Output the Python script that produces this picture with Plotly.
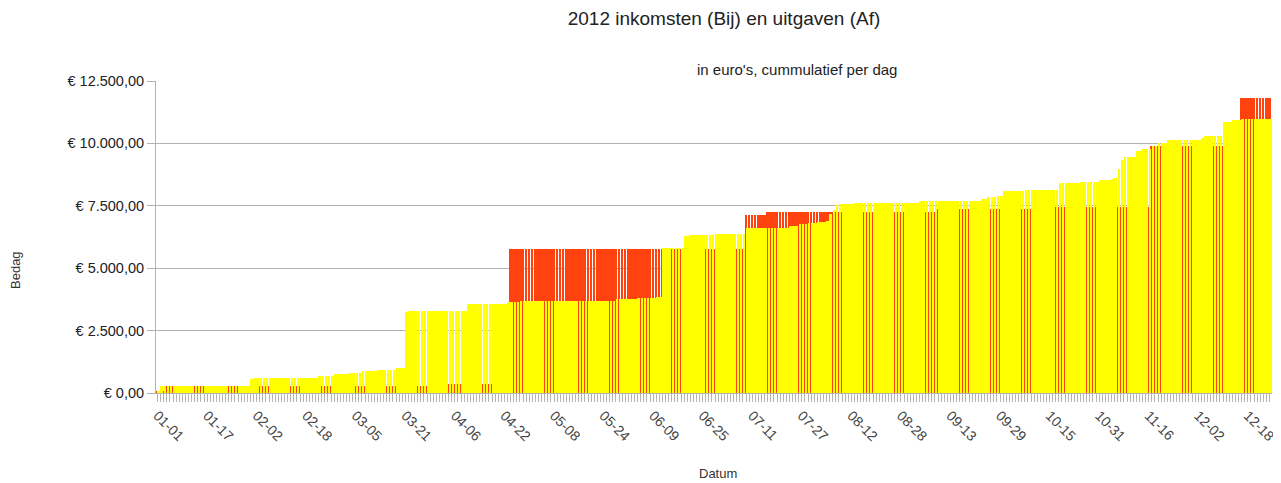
import pandas as pd
import plotly.graph_objects as go

# Days shown on the category axis (2012 is a leap year)
days = pd.date_range("2012-01-01", "2012-12-25", freq="D")
categories = [d.strftime("%m-%d") for d in days]

# Income (Bij): booking date and amount in euro
bij_dates = ["01-01", "01-02", "01-31", "02-01", "02-22", "02-27", "03-03", "03-07",
             "03-12", "03-18", "03-21", "03-22", "04-10", "04-23", "04-27", "05-28",
             "06-04", "06-10", "06-12", "06-19", "06-21", "06-29", "07-09", "07-23",
             "07-26", "07-29", "08-01", "08-04", "08-05", "08-06", "08-07", "08-08",
             "08-13", "09-03", "09-23", "09-25", "09-28", "09-30", "10-07", "10-18",
             "10-25", "10-31", "11-04", "11-05", "11-06", "11-07", "11-08", "11-12",
             "11-14", "11-17", "11-19", "11-22", "12-03", "12-04", "12-10", "12-13",
             "12-16"]
bij_amounts = [90, 200, 280, 40, 80, 80, 40, 60,
               70, 50, 2250, 60, 270, 70, 60, 70,
               30, 40, 1980, 490, 40, 30, 220, 110,
               70, 20, 60, 20, 300, 150, 220, 30,
               50, 70, 80, 60, 60, 190, 60, 250,
               70, 80, 30, 40, 360, 370, 100, 240,
               70, 120, 140, 120, 80, 80, 550, 70,
               70]

# Expenses (Af): booking date and amount in euro
af_dates = ["01-01", "01-04", "04-01", "04-24", "07-09", "07-16", "09-09", "10-15",
            "11-17", "12-16"]
af_amounts = [90, 200, 80, 5410, 1360, 100, 140, 60, 2460, 1930]

title_text = "2012 inkomsten (Bij) en uitgaven (Af)"
subtitle_text = "in euro's, cummulatief per dag"


def cumulative(dates, amounts):
    daily = pd.Series(0.0, index=categories)
    for d, a in zip(dates, amounts):
        daily[d] += a
    return daily.cumsum().tolist()


bij_cum = cumulative(bij_dates, bij_amounts)
af_cum = cumulative(af_dates, af_amounts)

ticktext = [c if i % 16 == 0 else "" for i, c in enumerate(categories)]

fig = go.Figure()
fig.add_trace(go.Bar(x=categories, y=af_cum, name="Af", width=0.87, offset=-0.5,
                     marker=dict(color="#FF420E", line=dict(width=0))))
fig.add_trace(go.Bar(x=categories, y=bij_cum, name="Bij", width=0.87, offset=-0.065,
                     marker=dict(color="#FFFF00", line=dict(width=0))))

font_family = "Liberation Sans, Arial, sans-serif"

# the page body has an 8px margin, so the figure is shifted by -8px via margins
fig.update_layout(
    width=1281, height=483,
    margin=dict(l=148, r=17, t=73, b=98),
    paper_bgcolor="white", plot_bgcolor="white",
    barmode="overlay", bargap=0, bargroupgap=0,
    showlegend=False,
    separators=",.",
    font=dict(family=font_family, color="#333333", size=13),
    title=dict(text=title_text, x=716 / 1281, xref="container", xanchor="center",
               y=1 - 10 / 483, yref="container", yanchor="middle",
               font=dict(size=19, color="#222222", family=font_family)),
    annotations=[
        dict(text=subtitle_text, xref="paper", yref="paper", x=0.574, y=1,
             xanchor="center", yanchor="bottom", yshift=1, showarrow=False,
             font=dict(size=15, color="#222222")),
        dict(text="Bedag", xref="paper", yref="paper", x=(15 - 156) / 1116, y=(393 - 270) / 312,
             xanchor="center", yanchor="middle", textangle=-90, showarrow=False,
             font=dict(size=13, color="#333333")),
        dict(text="Datum", xref="paper", yref="paper", x=(718 - 156) / 1116, y=(393 - 473) / 312,
             xanchor="center", yanchor="middle", showarrow=False,
             font=dict(size=13, color="#333333")),
    ],
)

fig.update_xaxes(
    type="category", tickmode="array", tickvals=categories, ticktext=ticktext,
    tickangle=45, ticks="outside", ticklen=8, tickcolor="#b3b3b3", tickwidth=1,
    showgrid=False, showline=True, linecolor="#b3b3b3",
    tickfont=dict(size=14, color="#444444"),
)
fig.update_yaxes(
    range=[0, 12500], dtick=2500, tick0=0, tickprefix="€ ", tickformat=",.2f",
    showgrid=True, gridcolor="#b3b3b3", zeroline=False,
    showline=True, linecolor="#b3b3b3", ticks="outside", ticklen=8, tickcolor="#b3b3b3",
    tickfont=dict(size=14.5, color="#222222"),
)

fig.write_html("out.html")
